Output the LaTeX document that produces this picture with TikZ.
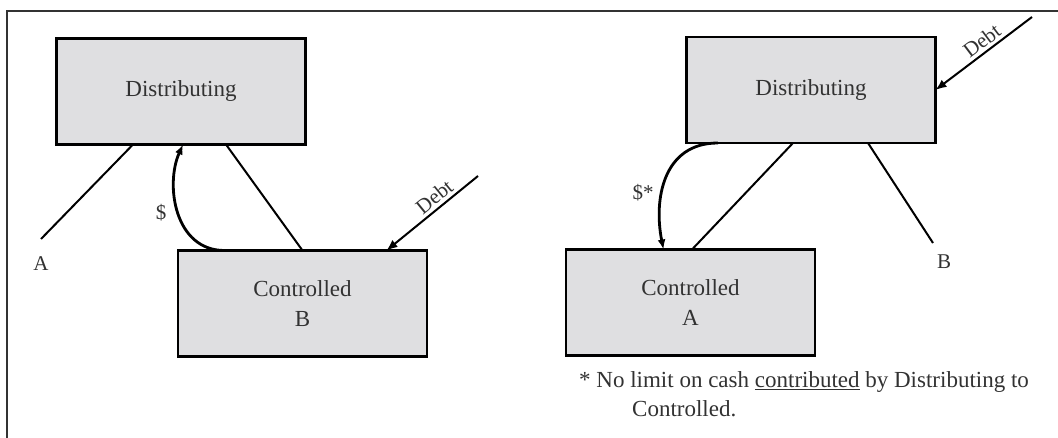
\documentclass[tikz,border=0pt]{standalone}
\usepackage{fontspec}
\setmainfont{Liberation Serif}
\usetikzlibrary{arrows.meta}

\definecolor{boxgray}{RGB}{223,223,225}
\definecolor{inkgray}{RGB}{50,50,50}

\tikzset{
  entity/.style={draw, line width=2.5pt, fill=boxgray, minimum width=249pt,
    minimum height=106pt, align=center, inner sep=0pt, outer sep=0pt,
    font=\fontsize{23}{30}\selectfont, text=inkgray},
  link/.style={line width=2pt},
  cash/.style={line width=2.8pt, -{Latex[length=10pt,width=8pt]}},
  debt/.style={line width=2pt, -{Latex[length=11pt,width=9pt]}},
  lbl/.style={font=\fontsize{21}{24}\selectfont, text=inkgray, inner sep=0pt},
  debtlbl/.style={font=\fontsize{21}{24}\selectfont, text=inkgray, inner sep=3pt},
}

\begin{document}
\begin{tikzpicture}[x=1pt,y=-1pt]
    \useasboundingbox (0,0) rectangle (1058,438);
    % frame
    \draw[line width=2pt, black!80] (7,438) -- (7,11) -- (1058,11);

    % left: spin-off of B
    \node[entity] (distL) at (181,91.5) {Distributing};
    \node[entity] (ctrlB) at (302.5,303.5) {Controlled\\B};
    \coordinate (endA) at (41,239);
    \node[lbl] (labA) at (41,264) {A};
    \coordinate (debtL) at (478,176);
    \draw[link] ([xshift=-48pt]distL.south) -- (endA);
    \draw[link] ([xshift=45pt]distL.south) -- (ctrlB.north);
    \draw[cash] ([xshift=-78pt]ctrlB.north) .. controls +(-50,0) and +(-18,40)
      .. ([xshift=2pt]distL.south);
    \node[lbl] (cashL) at (161,213) {\$};
    \draw[debt] (debtL) -- node[debtlbl, sloped, pos=0.4, above] {Debt}
      ([xshift=84pt]ctrlB.north);

    % right: spin-off of A
    \node[entity] (distR) at (811,90) {Distributing};
    \node[entity] (ctrlA) at (690.5,302.5) {Controlled\\A};
    \coordinate (endB) at (933,243);
    \node[lbl] (labB) at (944,262) {B};
    \coordinate (debtR) at (1032,17);
    \draw[link] ([xshift=-18pt]distR.south) -- ([xshift=1.5pt]ctrlA.north);
    \draw[link] ([xshift=57pt]distR.south) -- (endB);
    \draw[cash] ([xshift=-93pt]distR.south) .. controls +(-55,0) and +(-10,-50)
      .. ([xshift=-27pt]ctrlA.north);
    \node[lbl] (cashR) at (643,193) {\$*};
    \draw[debt] (debtR) -- node[debtlbl, sloped, pos=0.45, above] {Debt}
      (distR.east);

    % footnote
    \node[lbl, font=\fontsize{23}{29}\selectfont, anchor=base west] (noteA) at (579,388)
      {* No limit on cash \underline{contributed} by Distributing to};
    \node[lbl, font=\fontsize{23}{29}\selectfont, anchor=base west] (noteB) at (632,417)
      {Controlled.};
\end{tikzpicture}
\end{document}
